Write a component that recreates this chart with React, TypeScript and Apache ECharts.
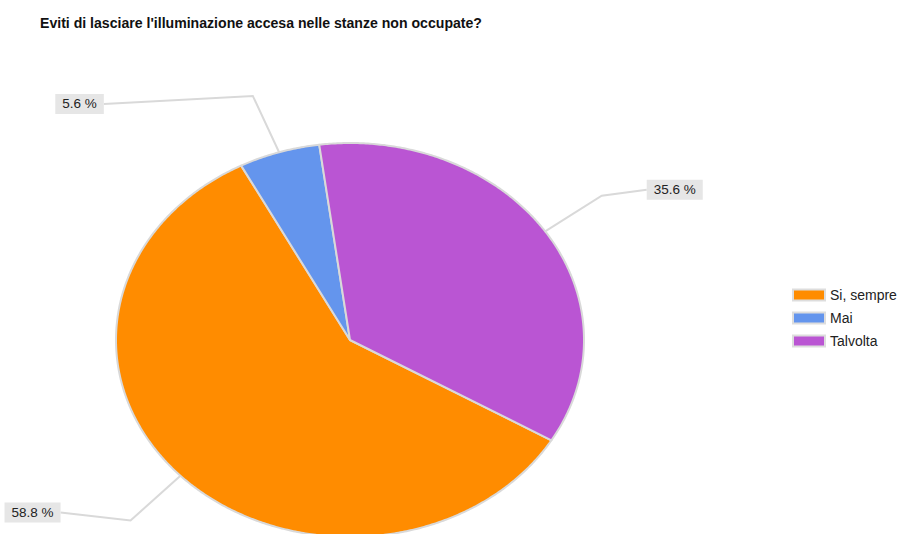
import React, { useEffect, useRef } from "react";
import * as echarts from "echarts";

const titleText = "Eviti di lasciare l'illuminazione accesa nelle stanze non occupate?";
const categories = ["Si, sempre", "Mai", "Talvolta"];
const values = [58.8, 5.6, 35.6];
const colors = ["#FF8C00", "#6495ED", "#BA55D3"];

// layout (not data)
const CX = 350;
const CY = 340;
const RX = 234;
const RY = 197;
const START_DEG = 120.6; // clockwise from 12 o'clock
const ELBOW = 1.3;
const ELBOW_SHIFT: number[][] = [
  [1, 4],
  [-5, 0],
  [-2, -3],
];
const LABEL_RUN: number[][] = [
  [-70, -8],
  [-149, 8],
  [45, -6],
];
const FONT = "'Liberation Sans', Arial, sans-serif";

export default function App() {
  const ref = useRef<HTMLDivElement>(null);
  useEffect(() => {
    document.body.style.margin = "0";
    const chart = echarts.init(ref.current!, null, { renderer: "svg" });
    const total = values.reduce((a, b) => a + b, 0);
    const pt = (deg: number, k: number) => {
      const r = (deg * Math.PI) / 180;
      return [CX + Math.sin(r) * RX * k, CY - Math.cos(r) * RY * k];
    };
    const series = categories.map((name, i) => ({
      type: "custom",
      name,
      coordinateSystem: "none",
      itemStyle: { color: colors[i] },
      data: [[values[i]]],
      renderItem: (params: any, api: any) => {
        const before = values.slice(0, i).reduce((a, b) => a + b, 0);
        const v = api.value(0) as number;
        const a0 = START_DEG + (before / total) * 360;
        const a1 = a0 + (v / total) * 360;
        const pts: number[][] = [[CX, CY]];
        const steps = Math.max(4, Math.ceil((a1 - a0) * 2));
        for (let s = 0; s <= steps; s++) pts.push(pt(a0 + ((a1 - a0) * s) / steps, 1));
        const mid = (a0 + a1) / 2;
        const edge = pt(mid, 1);
        const e0 = pt(mid, ELBOW);
        const elbow = [e0[0] + ELBOW_SHIFT[i][0], e0[1] + ELBOW_SHIFT[i][1]];
        const anchor = [elbow[0] + LABEL_RUN[i][0], elbow[1] + LABEL_RUN[i][1]];
        const right = LABEL_RUN[i][0] > 0;
        return {
          type: "group",
          children: [
            {
              type: "polygon",
              shape: { points: pts },
              style: { fill: api.visual("color"), stroke: "#d9d9d9", lineWidth: 2, lineJoin: "round" },
            },
            {
              type: "polyline",
              shape: { points: [edge, elbow, anchor] },
              style: { fill: null, stroke: "#d9d9d9", lineWidth: 2 },
            },
            {
              type: "text",
              x: anchor[0],
              y: anchor[1],
              style: {
                text: v.toFixed(1) + " %",
                fontFamily: FONT,
                fontSize: 13.5,
                fill: "#222",
                align: right ? "left" : "right",
                verticalAlign: "middle",
                backgroundColor: "#e6e6e6",
                padding: [3, 7, 3, 7],
              },
            },
          ],
        };
      },
    }));
    chart.setOption({
      animation: false,
      backgroundColor: "#ffffff",
      title: {
        text: titleText,
        left: 40,
        top: 16,
        padding: 0,
        textStyle: { fontFamily: FONT, fontSize: 14.1, fontWeight: "bold", color: "#111" },
      },
      legend: {
        orient: "vertical",
        left: 792,
        top: 288,
        padding: 0,
        itemWidth: 32,
        itemHeight: 11,
        itemGap: 9,
        icon: "rect",
        itemStyle: { borderColor: "#dddddd", borderWidth: 2 },
        textStyle: { fontFamily: FONT, fontSize: 14, color: "#222", lineHeight: 14 },
        data: categories,
      },
      series,
    } as any);
    return () => chart.dispose();
  }, []);
  return <div ref={ref} style={{ width: 900, height: 534 }} />;
}
